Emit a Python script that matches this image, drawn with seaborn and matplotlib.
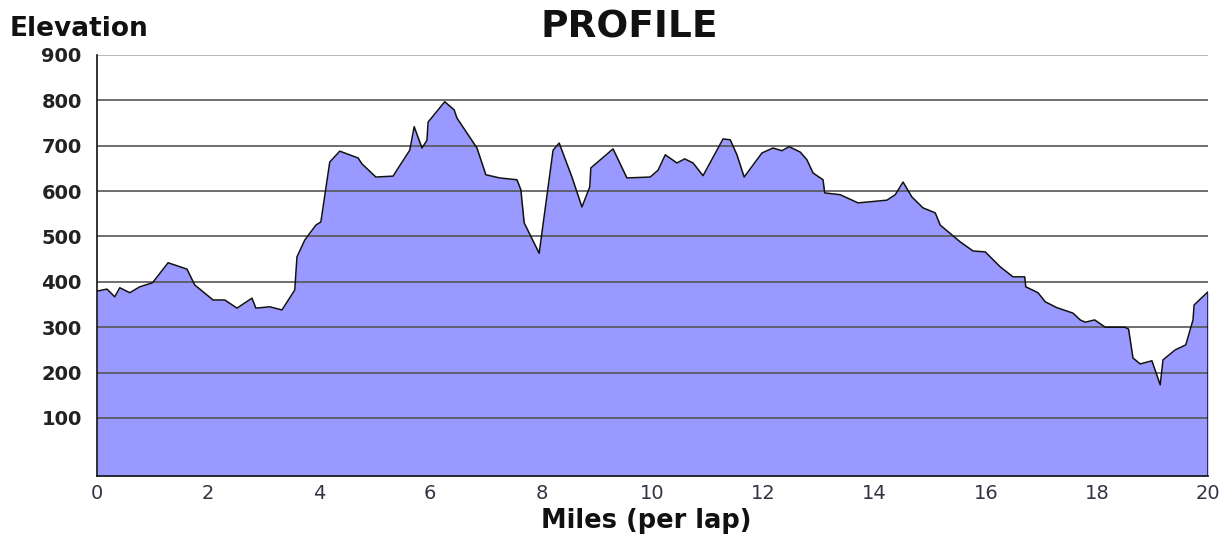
import matplotlib
matplotlib.use("Agg")
import matplotlib.pyplot as plt
import seaborn as sns
import pandas as pd

miles = [0.0, 0.02, 0.18, 0.32, 0.41, 0.59, 0.77, 1.0, 1.28, 1.62, 1.76, 2.09, 2.3, 2.52,
         2.79, 2.86, 3.11, 3.33, 3.56, 3.6, 3.74, 3.94, 4.03, 4.19, 4.37, 4.7, 4.77, 5.02,
         5.33, 5.45, 5.63, 5.71, 5.85, 5.94, 5.96, 6.26, 6.43, 6.48, 6.84, 7.0, 7.25, 7.56,
         7.63, 7.69, 7.96, 8.21, 8.32, 8.55, 8.73, 8.87, 8.89, 9.29, 9.54, 9.96, 10.1,
         10.23, 10.44, 10.58, 10.73, 10.91, 11.27, 11.4, 11.52, 11.65, 11.97, 12.17, 12.33,
         12.46, 12.66, 12.78, 12.89, 13.07, 13.1, 13.38, 13.7, 14.22, 14.37, 14.51, 14.67,
         14.87, 15.09, 15.18, 15.54, 15.77, 15.99, 16.26, 16.49, 16.7, 16.72, 16.94, 17.07,
         17.28, 17.57, 17.7, 17.79, 17.96, 18.15, 18.5, 18.57, 18.65, 18.78, 18.99, 19.14,
         19.19, 19.41, 19.6, 19.73, 19.75, 20.0]
elevation = [380, 380, 384, 367, 387, 376, 389, 398, 442, 428, 393, 360, 360, 342,
             364, 342, 345, 338, 382, 455, 492, 525, 532, 664, 688, 673, 660, 631,
             633, 656, 690, 742, 695, 712, 752, 797, 779, 761, 695, 636, 629, 625,
             603, 530, 463, 690, 706, 631, 565, 609, 651, 693, 629, 631, 646,
             680, 662, 671, 662, 634, 715, 713, 680, 631, 684, 695, 689,
             698, 686, 669, 640, 625, 596, 592, 574, 580, 592, 620, 587,
             563, 552, 525, 488, 468, 466, 433, 411, 411, 389, 376, 356,
             343, 331, 316, 311, 316, 300, 300, 296, 232, 219, 226, 173,
             228, 250, 261, 316, 349, 378]

x_ticks = [0, 2, 4, 6, 8, 10, 12, 14, 16, 18, 20]
y_ticks = [100, 200, 300, 400, 500, 600, 700, 800, 900]

df = pd.DataFrame({"Miles": miles, "Elevation": elevation})

sns.set_style("white")
plt.rcParams["font.family"] = ["DejaVu Sans"]

fig = plt.figure(figsize=(12.2, 5.37), dpi=100)
ax = fig.add_axes([97 / 1220, 61 / 537, (1208 - 97) / 1220, 421 / 537])

ymin = -28
ax.fill_between(df["Miles"], df["Elevation"], ymin, color="#9999FF", lw=0, zorder=1)
sns.lineplot(data=df, x="Miles", y="Elevation", ax=ax, color="#111111", lw=1.1, zorder=3)
ax.vlines(miles[-1], ymin, elevation[-1], color="#111111", lw=1.1, zorder=3)

for v in y_ticks:
    ax.axhline(v, color="#555555" if v < 900 else "#aaaaaa", lw=1.4, alpha=0.85, zorder=2)

ax.set_xlim(0, 20)
ax.set_ylim(ymin, 900)
ax.set_xticks(x_ticks)
ax.set_yticks(y_ticks)
ax.set_xticklabels([str(t) for t in x_ticks], fontsize=14, color="#333344")
ax.set_yticklabels([str(t) for t in y_ticks], fontsize=14, fontweight="bold", color="#222222")
ax.tick_params(axis="x", direction="in", length=20, width=1.2, color="#222222", pad=6)
ax.tick_params(axis="y", length=0, pad=11)

for s in ["top", "right"]:
    ax.spines[s].set_visible(False)
for s in ["left", "bottom"]:
    ax.spines[s].set_color("#111111")
    ax.spines[s].set_linewidth(1.2)
    ax.spines[s].set_zorder(4)

ax.set_xlabel("")
ax.set_ylabel("")
fig.text(646 / 1220, 1 - 521 / 537, "Miles (per lap)", ha="center", va="center",
         fontsize=18.5, fontweight="bold", color="#111111")
fig.text(10 / 1220, 1 - 29 / 537, "Elevation", ha="left", va="center",
         fontsize=19, fontweight="bold", color="#111111")
fig.text(629 / 1220, 1 - 28 / 537, "PROFILE", ha="center", va="center",
         fontsize=27, fontweight="bold", color="#111111")

fig.savefig("out.png", dpi=100)
